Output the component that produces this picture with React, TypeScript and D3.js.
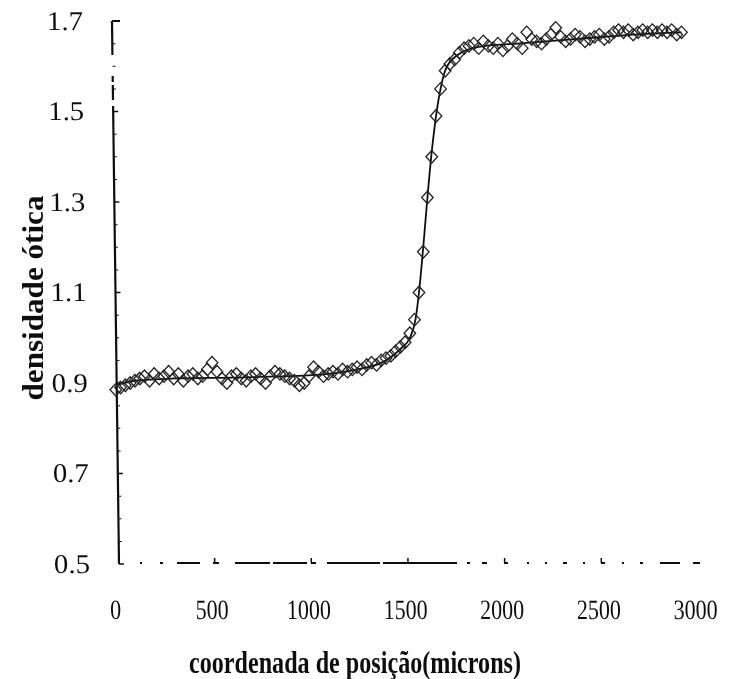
import React from "react";
import * as d3 from "d3";

// Posição ao longo do perfil (µm) e densidade ótica medida
const posicao = [
  0, 25, 50, 75, 100, 125, 150, 175, 200, 225, 250, 275, 300, 325, 350, 375, 400, 425, 450, 475,
  500, 525, 550, 575, 600, 625, 650, 675, 700, 725, 750, 775, 800, 825, 850, 875, 900, 925, 950, 975,
  1000, 1025, 1050, 1075, 1100, 1125, 1150, 1175, 1200, 1225, 1250, 1275, 1300, 1325, 1350, 1375, 1400, 1425, 1450, 1475,
  1500, 1525, 1550, 1575, 1600, 1625, 1650, 1675, 1700, 1725, 1750, 1775, 1800, 1825, 1850, 1875, 1900, 1925, 1950, 1975,
  2000, 2025, 2050, 2075, 2100, 2125, 2150, 2175, 2200, 2225, 2250, 2275, 2300, 2325, 2350, 2375, 2400, 2425, 2450, 2475,
  2500, 2525, 2550, 2575, 2600, 2625, 2650, 2675, 2700, 2725, 2750, 2775, 2800, 2825, 2850, 2875, 2900, 2925, 2950,
];
const densidade = [
  0.885, 0.89, 0.895, 0.9, 0.905, 0.91, 0.915, 0.905, 0.92, 0.91, 0.915, 0.925, 0.91, 0.92, 0.905, 0.915, 0.92, 0.91, 0.915, 0.93,
  0.945, 0.925, 0.91, 0.9, 0.915, 0.92, 0.91, 0.905, 0.915, 0.92, 0.91, 0.9, 0.915, 0.925, 0.92, 0.915, 0.91, 0.905, 0.895, 0.9,
  0.915, 0.935, 0.925, 0.915, 0.92, 0.925, 0.92, 0.93, 0.925, 0.93, 0.935, 0.93, 0.94, 0.945, 0.94, 0.95, 0.955, 0.96, 0.97, 0.98,
  0.99, 1.01, 1.04, 1.1, 1.19, 1.31, 1.4, 1.49, 1.55, 1.59, 1.605, 1.615, 1.63, 1.64, 1.645, 1.65, 1.64, 1.655, 1.645, 1.64,
  1.65, 1.635, 1.645, 1.66, 1.65, 1.64, 1.675, 1.66, 1.655, 1.65, 1.66, 1.67, 1.685, 1.665, 1.655, 1.66, 1.67, 1.665, 1.655, 1.66,
  1.665, 1.67, 1.66, 1.665, 1.675, 1.68, 1.675, 1.68, 1.67, 1.675, 1.68, 1.675, 1.68, 1.675, 1.68, 1.675, 1.68, 1.67, 1.675,
];

// Curva ajustada
const ajustePosicao = [0, 100, 300, 600, 900, 1100, 1250, 1400, 1475, 1525, 1555, 1575, 1600, 1625, 1650, 1675, 1700, 1725, 1775, 1900, 2100, 2400, 2700, 2950];
const ajusteDensidade = [0.895, 0.905, 0.91, 0.912, 0.915, 0.92, 0.93, 0.95, 0.975, 1.0, 1.04, 1.1, 1.2, 1.31, 1.41, 1.49, 1.55, 1.59, 1.62, 1.643, 1.65, 1.66, 1.67, 1.675];

const xTicks = [0, 500, 1000, 1500, 2000, 2500, 3000];
const yTicks = [0.5, 0.7, 0.9, 1.1, 1.3, 1.5, 1.7];
const yMinor = [0.55, 0.6, 0.65, 0.75, 0.8, 0.85, 0.95, 1.0, 1.05, 1.15, 1.2, 1.25, 1.35, 1.4, 1.45, 1.55, 1.6, 1.65];

const W = 735;
const H = 679;
const serif = "'Liberation Serif', 'Times New Roman', serif";
const ink = "#111";

export default function App() {
  const x = d3.scaleLinear().domain([0, 3000]).range([118, 698]);
  const y = d3.scaleLinear().domain([0.5, 1.7]).range([564, 21]);
  const axisX = 119;
  const base = y(0.5);

  const linha = d3
    .line<number>()
    .x((_, i) => x(ajustePosicao[i]))
    .y((d) => y(d))
    .curve(d3.curveMonotoneX);

  const diamond = "M0,-6.2L5.8,0L0,6.2L-5.8,0Z";

  // broken printed baseline: pieces of ink along the x axis
  const tracos: [number, number][] = [
    [140, 142], [160, 163], [177, 200], [213, 219], [235, 270], [273, 307], [311, 316], [327, 380],
    [383, 457], [467, 470], [482, 487], [504, 508], [527, 529], [545, 547], [563, 567], [583, 585],
    [601, 605], [622, 624], [640, 643], [660, 680], [693, 700],
  ];
  const dash: number[] = [0];
  let cur = axisX;
  tracos.forEach(([a, b]) => {
    dash.push(a - cur, b - a);
    cur = b;
  });
  dash.push(1000);

  return (
    <div style={{ position: "absolute", left: 0, top: 0 }}>
      <svg width={W} height={H} viewBox={`0 0 ${W} ${H}`} style={{ display: "block", background: "#fff" }}>
        <defs>
          <filter id="suave" x="-5%" y="-5%" width="110%" height="110%">
            <feGaussianBlur stdDeviation="0.35" />
          </filter>
        </defs>
        <g filter="url(#suave)">
          <g transform={`translate(0,${base}) skewX(0.74) translate(0,${-base})`}>
            {/* eixo y */}
            <line
              x1={axisX}
              x2={axisX}
              y1={y(1.7)}
              y2={base}
              stroke={ink}
              strokeWidth={2.2}
              strokeDasharray="34 21 6 3 15 6 1000"
            />
            <line x1={axisX} x2={axisX + 8} y1={y(1.7)} y2={y(1.7)} stroke={ink} strokeWidth={2} />
            {yTicks.slice(0, -1).map((t) => (
              <line key={t} x1={axisX} x2={axisX + 5} y1={y(t)} y2={y(t)} stroke={ink} strokeWidth={1.3} />
            ))}
            {yMinor.map((t) => (
              <line key={t} x1={axisX} x2={axisX + 3} y1={y(t)} y2={y(t)} stroke={ink} strokeWidth={1} />
            ))}
            {yTicks.map((t) => (
              <text
                key={t}
                x={90}
                y={y(t) + 9}
                textAnchor="end"
                fontFamily={serif}
                fontSize={27}
                fill={ink}
                textLength={36}
                lengthAdjust="spacingAndGlyphs"
              >
                {t.toFixed(1)}
              </text>
            ))}

            {/* eixo x */}
            <line
              x1={axisX}
              x2={700}
              y1={base - 1}
              y2={base - 1}
              stroke={ink}
              strokeWidth={2}
              strokeDasharray={dash.join(" ")}
            />
            {xTicks.slice(1, -1).map((t) => (
              <line key={t} x1={x(t)} x2={x(t)} y1={base - 1} y2={base - 6} stroke={ink} strokeWidth={1.5} />
            ))}
            {xTicks.map((t) => {
              const s = String(t);
              return (
                <text
                  key={t}
                  x={x(t) - 3}
                  y={619}
                  textAnchor="middle"
                  fontFamily={serif}
                  fontSize={28}
                  fill={ink}
                  textLength={s.length * 11}
                  lengthAdjust="spacingAndGlyphs"
                >
                  {s}
                </text>
              );
            })}

            {/* curva ajustada */}
            <path d={linha(ajusteDensidade) ?? ""} fill="none" stroke={ink} strokeWidth={1.8} />

            {/* pontos medidos */}
            {densidade.map((v, i) => (
              <path
                key={i}
                d={diamond}
                transform={`translate(${x(posicao[i])},${y(v)})`}
                fill="none"
                stroke="#222"
                strokeWidth={1.3}
              />
            ))}
          </g>

          {/* títulos */}
          <text
            x={355}
            y={673}
            textAnchor="middle"
            fontFamily={serif}
            fontWeight="bold"
            fontSize={32}
            fill={ink}
            textLength={332}
            lengthAdjust="spacingAndGlyphs"
          >
            coordenada de posição(microns)
          </text>
          <text
            transform={`translate(43,298) rotate(-90)`}
            textAnchor="middle"
            fontFamily={serif}
            fontWeight="bold"
            fontSize={30}
            fill={ink}
            textLength={205}
            lengthAdjust="spacingAndGlyphs"
          >
            densidade ótica
          </text>
        </g>
      </svg>
    </div>
  );
}
